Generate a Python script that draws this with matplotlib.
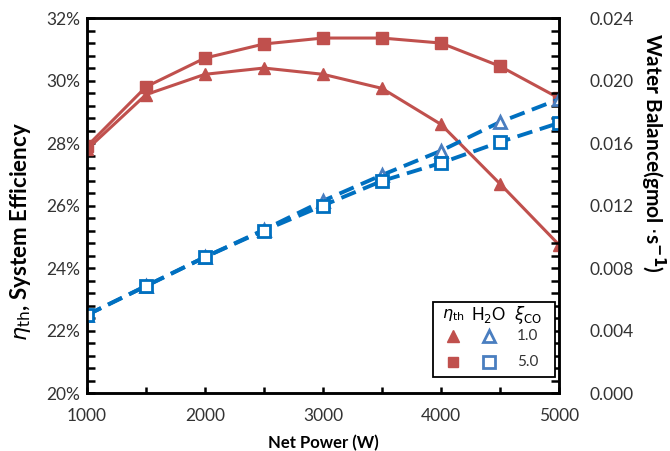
import matplotlib.pyplot as plt
from matplotlib.ticker import MultipleLocator, FuncFormatter
from matplotlib.patches import Rectangle

plt.rcParams['font.family'] = ['Lato', 'DejaVu Sans']
plt.rcParams['mathtext.fontset'] = 'dejavusans'

net_power = [1000, 1500, 2000, 2500, 3000, 3500, 4000, 4500, 5000]

# system efficiency (%) for xi_CO = 1.0 and 5.0
eff_xi1 = [27.8, 29.55, 30.2, 30.4, 30.2, 29.75, 28.6, 26.7, 24.75]
eff_xi5 = [27.9, 29.8, 30.72, 31.17, 31.36, 31.36, 31.2, 30.46, 29.44]

# water balance (gmol/s)
h2o_xi1 = [0.0050, 0.00685, 0.0087, 0.01045, 0.0123, 0.01395, 0.0155, 0.01734, 0.0188]
h2o_xi5 = [0.0050, 0.00685, 0.0087, 0.01040, 0.0120, 0.01357, 0.01472, 0.01606, 0.01728]

red = '#C0504D'
blue = '#0070C0'
blue_mk = '#4A7EC0'
grey = '#333333'

fig = plt.figure(figsize=(6.7, 4.51), dpi=100)
ax = fig.add_axes([0.13, 0.1286, 0.704, 0.8314])
ax2 = ax.twinx()

ax.plot(net_power, eff_xi1, color=red, lw=2.2, marker='^', ms=9, zorder=3)
ax.plot(net_power, eff_xi5, color=red, lw=2.2, marker='s', ms=9, zorder=3)

ax2.plot(net_power, h2o_xi1, color=blue, lw=2.8, ls=(0, (4, 2)), marker='^', ms=8,
         mfc='white', mec=blue_mk, mew=2)
ax2.plot(net_power, h2o_xi5, color=blue, lw=2.8, ls=(0, (4, 2)), marker='s', ms=8,
         mfc='white', mec=blue, mew=2)

ax.set_xlim(1000, 5000)
ax.set_ylim(20, 32)
ax2.set_ylim(0, 0.024)

ax.xaxis.set_major_locator(MultipleLocator(1000))
ax.xaxis.set_minor_locator(MultipleLocator(500))
ax.yaxis.set_major_locator(MultipleLocator(2))
ax.yaxis.set_minor_locator(MultipleLocator(0.4))
ax.yaxis.set_major_formatter(FuncFormatter(lambda v, p: f'{v:.0f}%'))
ax2.yaxis.set_major_locator(MultipleLocator(0.004))
ax2.yaxis.set_minor_locator(MultipleLocator(0.0008))
ax2.yaxis.set_major_formatter(FuncFormatter(lambda v, p: f'{v:.3f}'))

for a in (ax, ax2):
    for s in a.spines.values():
        s.set_linewidth(1.8)
    a.tick_params(which='both', direction='in', width=1.8, length=6,
                  labelsize=12.5, colors='black')
ax.tick_params(axis='y', which='both', right=False, pad=5)
ax.tick_params(axis='x', which='both', top=False, length=4, pad=11)
ax2.tick_params(axis='y', pad=22)
for lbl in ax.get_yticklabels() + ax2.get_yticklabels() + ax.get_xticklabels():
    lbl.set_color(grey)

ax.set_xlabel('Net Power (W)', fontsize=12, fontweight='bold', labelpad=8)
ax.set_ylabel(r'$\eta_{\mathrm{th}}$, System Efficiency', fontsize=16,
              fontweight='bold')
ax.yaxis.set_label_coords(-0.114, 0.43)
ax2.set_ylabel(r'Water Balance(gmol $\cdot$s$^{\mathbf{-1}}$)', fontsize=15,
               fontweight='bold', rotation=270, va='bottom')
ax2.yaxis.set_label_coords(1.168, 0.64)

# legend box: columns for efficiency, water balance, xi_CO value
lx, ly, lw_, lh = 0.733, 0.043, 0.26, 0.2
ax2.add_patch(Rectangle((lx, ly), lw_, lh, transform=ax.transAxes, fill=True,
                        facecolor='white', edgecolor='black', lw=1.3, zorder=5))
cols = [0.776, 0.852, 0.934]
rows = [0.208, 0.152, 0.083]
txt = dict(transform=ax.transAxes, ha='center', va='center', zorder=6)
ax2.text(cols[0], rows[0], r'$\eta_{\mathrm{th}}$', fontsize=11.5, **txt)
ax2.text(cols[1], rows[0], r'H$_2$O', fontsize=12, **txt)
ax2.text(cols[2], rows[0], r'$\xi_{\mathrm{CO}}$', fontsize=12, **txt)
ax2.text(cols[2], rows[1], '1.0', fontsize=11, color=grey, **txt)
ax2.text(cols[2], rows[2], '5.0', fontsize=11, color=grey, **txt)
mk = dict(transform=ax.transAxes, zorder=6, clip_on=False, ls='none')
ax2.plot(cols[0], rows[1], marker='^', ms=9, color=red, **mk)
ax2.plot(cols[0], rows[2], marker='s', ms=7.5, color=red, **mk)
ax2.plot(cols[1], rows[1], marker='^', ms=8, mfc='white', mec=blue_mk, mew=2, **mk)
ax2.plot(cols[1], rows[2], marker='s', ms=8, mfc='white', mec=blue_mk, mew=2, **mk)

fig.savefig('out.png', dpi=100)
